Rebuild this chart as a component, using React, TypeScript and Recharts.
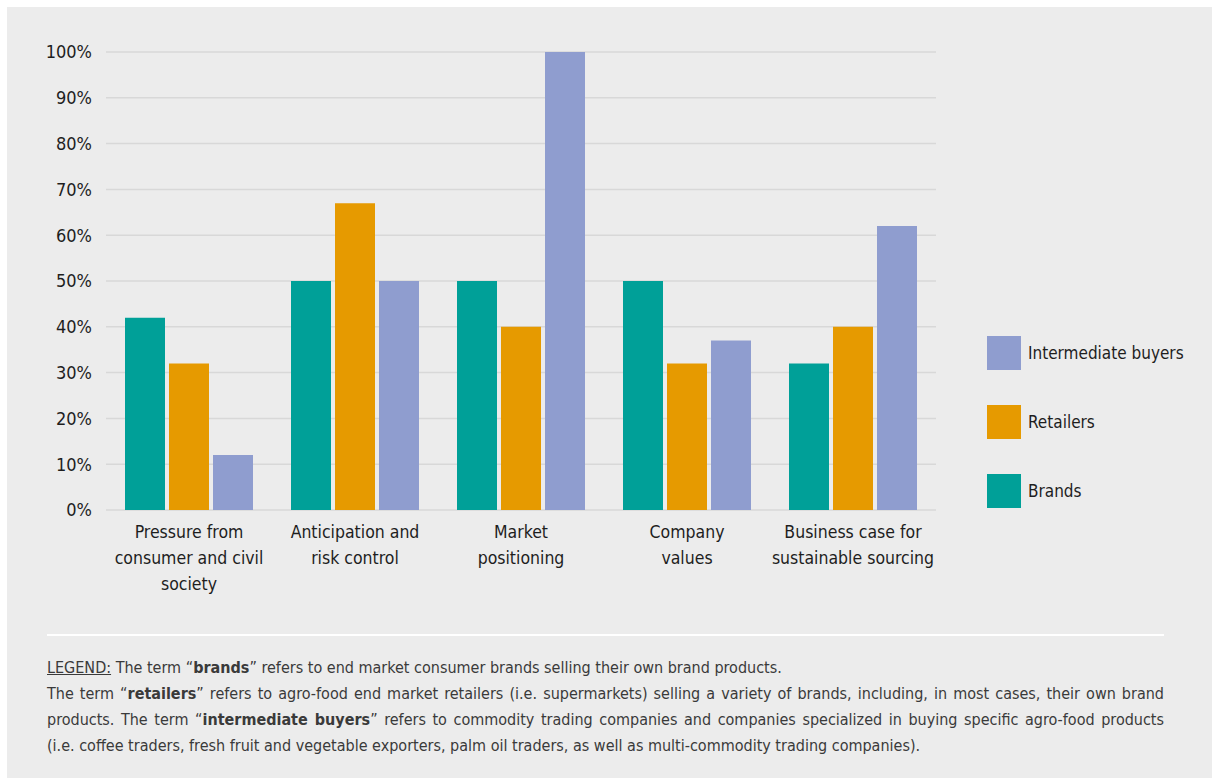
import React from "react"
import { BarChart, Bar, XAxis, YAxis, CartesianGrid } from "recharts"

const categories = [
  "Pressure from consumer and civil society",
  "Anticipation and risk control",
  "Market positioning",
  "Company values",
  "Business case for sustainable sourcing",
]

// how each category label wraps under the axis
const categoryLines = [
  ["Pressure from", "consumer and civil", "society"],
  ["Anticipation and", "risk control"],
  ["Market", "positioning"],
  ["Company", "values"],
  ["Business case for", "sustainable sourcing"],
]

const brands = [42, 50, 50, 50, 32]
const retailers = [32, 67, 40, 32, 40]
const intermediateBuyers = [12, 50, 100, 37, 62]

const yTicks = [0, 10, 20, 30, 40, 50, 60, 70, 80, 90, 100]

const series = [
  { key: "brands", name: "Brands", color: "#00a098" },
  { key: "retailers", name: "Retailers", color: "#e69a00" },
  { key: "intermediate", name: "Intermediate buyers", color: "#8f9dcf" },
]

const FONT = "'DejaVu Sans', sans-serif"
const COND: React.CSSProperties = { fontStretch: "condensed" }

const data = categories.map((name, i) => ({
  name,
  brands: brands[i],
  retailers: retailers[i],
  intermediate: intermediateBuyers[i],
}))

function CategoryTick({ x, y, payload, index }: any) {
  const lines = categoryLines[index] ?? [payload.value]
  return (
    <text x={x} y={y} textAnchor="middle" fill="#1e1e1e" fontSize={17.5} fontFamily={FONT} style={COND}>
      {lines.map((l, i) => (
        <tspan key={i} x={x} dy={i === 0 ? 20 : 26}>
          {l}
        </tspan>
      ))}
    </text>
  )
}

const footLine: React.CSSProperties = { height: 26, lineHeight: "26px", whiteSpace: "nowrap" }
const justified: React.CSSProperties = { ...footLine, textAlign: "justify", textAlignLast: "justify" }

export default function App() {
  return (
    <div style={{ position: "fixed", left: 0, top: 0, width: 1212, height: 778, background: "#fff", overflow: "hidden" }}>
      <div style={{ position: "absolute", left: 7, top: 7, width: 1205, height: 771, background: "#ececec" }} />
      <div style={{ position: "absolute", left: 0, top: 0 }}>
        <BarChart width={1212} height={620} data={data} margin={{ top: 52, right: 276, bottom: 0, left: 46 }} barSize={40} barGap={4}>
          <CartesianGrid vertical={false} stroke="#d8d8d8" strokeWidth={1.5} />
          <XAxis dataKey="name" axisLine={false} tickLine={false} height={110} interval={0} tick={<CategoryTick />} />
          <YAxis
            domain={[0, 100]}
            ticks={yTicks}
            interval={0}
            width={60}
            axisLine={false}
            tickLine={false}
            tickSize={0}
            tickMargin={14}
            tickFormatter={(v) => `${v}%`}
            tick={{ fontSize: 18, fontFamily: FONT, fill: "#1e1e1e", style: COND }}
          />
          {series.map((s) => (
            <Bar key={s.key} dataKey={s.key} name={s.name} fill={s.color} isAnimationActive={false} />
          ))}
        </BarChart>
      </div>
      <div style={{ position: "absolute", left: 987, top: 336 }}>
        {[...series].reverse().map((s) => (
          <div key={s.key} style={{ display: "flex", alignItems: "center", height: 34, marginBottom: 35 }}>
            <div style={{ width: 34, height: 34, background: s.color }} />
            <span style={{ marginLeft: 7, fontSize: 17, fontFamily: FONT, ...COND, color: "#1e1e1e", whiteSpace: "nowrap" }}>{s.name}</span>
          </div>
        ))}
      </div>
      <div style={{ position: "absolute", left: 47, top: 634, width: 1117, height: 2, background: "#ffffff" }} />
      <div style={{ position: "absolute", left: 47, top: 655, width: 1117, fontFamily: FONT, ...COND, fontSize: 16, color: "#3a3a3a" }}>
        <div style={footLine}>
          <span style={{ textDecoration: "underline" }}>LEGEND:</span> The term “<b>brands</b>” refers to end market consumer brands selling their own brand products.
        </div>
        <div style={justified}>
          The term “<b>retailers</b>” refers to agro-food end market retailers (i.e. supermarkets) selling a variety of brands, including, in most cases, their own brand
        </div>
        <div style={justified}>
          products. The term “<b>intermediate buyers</b>” refers to commodity trading companies and companies specialized in buying specific agro-food products
        </div>
        <div style={footLine}>
          (i.e. coffee traders, fresh fruit and vegetable exporters, palm oil traders, as well as multi-commodity trading companies).
        </div>
      </div>
    </div>
  )
}
